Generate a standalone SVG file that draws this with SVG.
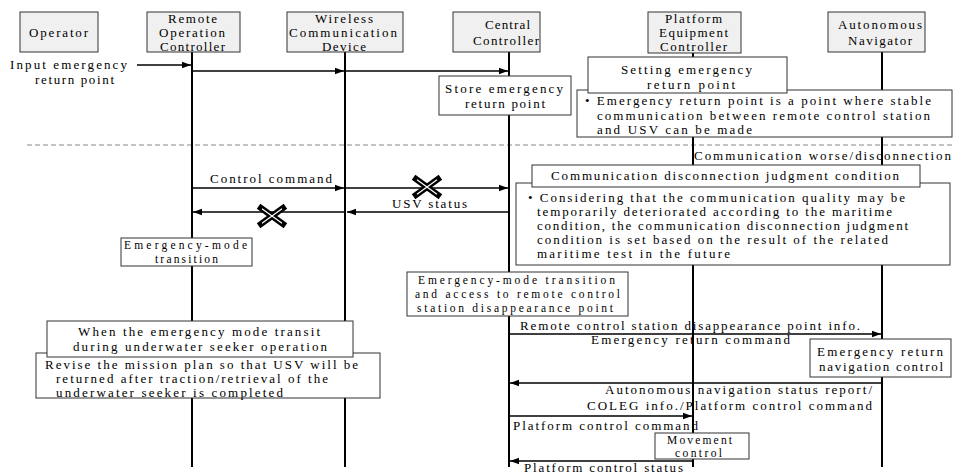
<svg xmlns="http://www.w3.org/2000/svg" width="955" height="474" viewBox="0 0 955 474">
  <defs>
    <marker id="arrow" markerUnits="userSpaceOnUse" markerWidth="10" markerHeight="8" refX="9" refY="4" orient="auto">
      <path d="M0,0.8 L9,4 L0,7.2 Z" fill="#000"/>
    </marker>
    <g id="cross">
      <path d="M-11,-8 L11,8 M-11,8 L11,-8" stroke="#000" stroke-width="6" stroke-linecap="square"/>
      <path d="M-10,-7.3 L10,7.3 M-10,7.3 L10,-7.3" stroke="#fff" stroke-width="1.2"/>
    </g>
  </defs>
  <style>
    .bg { fill: #ffffff; }
    .head { fill: #f0f0f0; stroke: #333; stroke-width: 1; }
    .note { fill: #ffffff; stroke: #333; stroke-width: 1; }
    .life { stroke: #000; stroke-width: 2; fill: none; }
    .msg { stroke: #000; stroke-width: 1.5; fill: none; marker-end: url(#arrow); }
    .sep { stroke: #888; stroke-width: 1; stroke-dasharray: 5 3; fill: none; }
    text { font-family: "Liberation Serif", "DejaVu Serif", serif; font-size: 13px; fill: #000; }
    .tight { font-size: 11.5px; }
  </style>

  <rect class="bg" x="0" y="0" width="955" height="474"/>

  <!-- phase separator -->
  <line class="sep" x1="27" y1="145" x2="955" y2="145"/>

  <!-- participants: header box + lifeline -->
  <g id="operator">
    <rect class="head" x="20" y="12" width="78" height="40"/>
    <text x="29" y="37" textLength="59" lengthAdjust="spacing">Operator</text>
  </g>
  <g id="remote-operation-controller">
    <line class="life" x1="192" y1="52" x2="192" y2="467"/>
    <rect class="head" x="147" y="12" width="93" height="40"/>
    <text x="168" y="23" textLength="49" lengthAdjust="spacing">Remote</text>
    <text x="159" y="37" textLength="66" lengthAdjust="spacing">Operation</text>
    <text x="160" y="51" textLength="65" lengthAdjust="spacing">Controller</text>
  </g>
  <g id="wireless-communication-device">
    <line class="life" x1="345" y1="52" x2="345" y2="467"/>
    <rect class="head" x="287" y="12" width="116" height="40"/>
    <text x="315" y="23" textLength="58" lengthAdjust="spacing">Wireless</text>
    <text x="289" y="37" textLength="108" lengthAdjust="spacing">Communication</text>
    <text x="322" y="51" textLength="44" lengthAdjust="spacing">Device</text>
  </g>
  <g id="central-controller">
    <line class="life" x1="509" y1="52" x2="509" y2="467"/>
    <rect class="head" x="453" y="12" width="87" height="40"/>
    <text x="485" y="29" textLength="45" lengthAdjust="spacing">Central</text>
    <text x="473" y="45" textLength="66" lengthAdjust="spacing">Controller</text>
  </g>
  <g id="platform-equipment-controller">
    <line class="life" x1="693" y1="53" x2="693" y2="467"/>
    <rect class="head" x="648" y="12" width="93" height="41"/>
    <text x="665" y="23" textLength="57" lengthAdjust="spacing">Platform</text>
    <text x="659" y="37" textLength="69" lengthAdjust="spacing">Equipment</text>
    <text x="660" y="51" textLength="67" lengthAdjust="spacing">Controller</text>
  </g>
  <g id="autonomous-navigator">
    <line class="life" x1="882" y1="52" x2="882" y2="467"/>
    <rect class="head" x="828" y="12" width="97" height="40"/>
    <text x="838" y="29" textLength="84" lengthAdjust="spacing">Autonomous</text>
    <text x="848" y="45" textLength="64" lengthAdjust="spacing">Navigator</text>
  </g>

  <!-- messages -->
  <g id="connectors">
    <line class="msg" x1="137" y1="65" x2="191" y2="65"/>
    <line class="msg" x1="192" y1="71" x2="344" y2="71"/>
    <line class="msg" x1="345" y1="71" x2="508" y2="71"/>
    <line class="msg" x1="192" y1="188" x2="344" y2="188"/>
    <line class="msg" x1="345" y1="188" x2="508" y2="188"/>
    <line class="msg" x1="509" y1="212" x2="347" y2="212"/>
    <line class="msg" x1="345" y1="212" x2="193" y2="212"/>
    <line class="msg" x1="509" y1="334" x2="881" y2="334"/>
    <line class="msg" x1="882" y1="383" x2="510" y2="383"/>
    <line class="msg" x1="509" y1="416" x2="692" y2="416"/>
    <line class="msg" x1="693" y1="461" x2="510" y2="461"/>
    <use href="#cross" x="427" y="187"/>
    <use href="#cross" x="272" y="216"/>

    <text x="10" y="69" textLength="117" lengthAdjust="spacing">Input emergency</text>
    <text x="35" y="84" textLength="79" lengthAdjust="spacing">return point</text>
    <text x="210" y="183" textLength="122" lengthAdjust="spacing">Control command</text>
    <text x="392" y="208" textLength="75" lengthAdjust="spacing">USV status</text>
    <text x="694" y="160" textLength="257" lengthAdjust="spacing">Communication worse/disconnection</text>
    <text x="520" y="330" textLength="340" lengthAdjust="spacing">Remote control station disappearance point info.</text>
    <text x="591" y="344" textLength="199" lengthAdjust="spacing">Emergency return command</text>
    <text x="605" y="394" textLength="267" lengthAdjust="spacing">Autonomous navigation status report/</text>
    <text x="587" y="410" textLength="285" lengthAdjust="spacing">COLEG info./Platform control command</text>
    <text x="513" y="430" textLength="185" lengthAdjust="spacing">Platform control command</text>
    <text x="524" y="472" textLength="159" lengthAdjust="spacing">Platform control status</text>
  </g>

  <!-- notes -->
  <g id="store-emergency-return-point">
    <rect class="note" x="439" y="76" width="132" height="39"/>
    <text x="445" y="93" textLength="118" lengthAdjust="spacing">Store emergency</text>
    <text x="465" y="108" textLength="80" lengthAdjust="spacing">return point</text>
  </g>
  <g id="return-point-definition">
    <rect class="note" x="577" y="90" width="375" height="47"/>
    <text x="585" y="105" textLength="346" lengthAdjust="spacing">• Emergency return point is a point where stable</text>
    <text x="597" y="120" textLength="333" lengthAdjust="spacing">communication between remote control station</text>
    <text x="597" y="134" textLength="155" lengthAdjust="spacing">and USV can be made</text>
  </g>
  <g id="setting-emergency-return-point">
    <rect class="note" x="588" y="57" width="199" height="36"/>
    <text x="621" y="74" textLength="131" lengthAdjust="spacing">Setting emergency</text>
    <text x="647" y="89" textLength="88" lengthAdjust="spacing">return point</text>
  </g>
  <g id="judgment-condition-detail">
    <rect class="note" x="516" y="183" width="434" height="82"/>
    <text x="528" y="202" textLength="377" lengthAdjust="spacing">• Considering that the communication quality may be</text>
    <text x="537" y="216" textLength="355" lengthAdjust="spacing">temporarily deteriorated according to the maritime</text>
    <text x="537" y="230" textLength="371" lengthAdjust="spacing">condition, the communication disconnection judgment</text>
    <text x="537" y="244" textLength="351" lengthAdjust="spacing">condition is set based on the result of the related</text>
    <text x="537" y="258" textLength="193" lengthAdjust="spacing">maritime test in the future</text>
  </g>
  <g id="judgment-condition">
    <rect class="note" x="532" y="165" width="388" height="22"/>
    <text x="551" y="180" textLength="348" lengthAdjust="spacing">Communication disconnection judgment condition</text>
  </g>
  <g id="emergency-mode-transition">
    <rect class="note" x="121" y="238" width="131" height="28"/>
    <text class="tight" x="124" y="249" textLength="123" lengthAdjust="spacing">Emergency-mode</text>
    <text class="tight" x="155" y="263" textLength="63" lengthAdjust="spacing">transition</text>
  </g>
  <g id="emergency-access">
    <rect class="note" x="407" y="272" width="221" height="44"/>
    <text class="tight" x="418" y="284" textLength="197" lengthAdjust="spacing">Emergency-mode transition</text>
    <text class="tight" x="415" y="298" textLength="205" lengthAdjust="spacing">and access to remote control</text>
    <text class="tight" x="417" y="312" textLength="196" lengthAdjust="spacing">station disappearance point</text>
  </g>
  <g id="revise-mission-plan">
    <rect class="note" x="36" y="353" width="344" height="45"/>
    <text x="45" y="369" textLength="313" lengthAdjust="spacing">Revise the mission plan so that USV will be</text>
    <text x="56" y="383" textLength="272" lengthAdjust="spacing">returned after traction/retrieval of the</text>
    <text x="56" y="397" textLength="227" lengthAdjust="spacing">underwater seeker is completed</text>
  </g>
  <g id="seeker-operation">
    <rect class="note" x="47" y="321" width="306" height="36"/>
    <text x="78" y="336" textLength="242" lengthAdjust="spacing">When the emergency mode transit</text>
    <text x="73" y="351" textLength="254" lengthAdjust="spacing">during underwater seeker operation</text>
  </g>
  <g id="emergency-return-navigation">
    <rect class="note" x="810" y="339" width="141" height="38"/>
    <text x="817" y="356" textLength="126" lengthAdjust="spacing">Emergency return</text>
    <text x="819" y="371" textLength="124" lengthAdjust="spacing">navigation control</text>
  </g>
  <g id="movement-control">
    <rect class="note" x="655" y="433" width="94" height="26"/>
    <text class="tight" x="667" y="444" textLength="65" lengthAdjust="spacing">Movement</text>
    <text class="tight" x="675" y="457" textLength="47" lengthAdjust="spacing">control</text>
  </g>
</svg>
